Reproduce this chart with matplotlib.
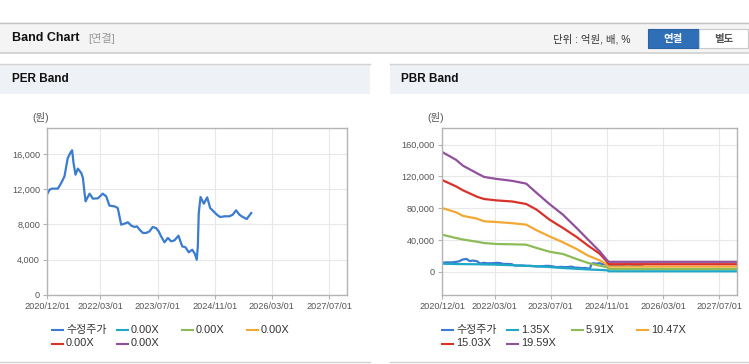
import numpy as np
import pandas as pd
import matplotlib.pyplot as plt
import matplotlib.dates as mdates
from matplotlib.lines import Line2D
from matplotlib.patches import Rectangle
from matplotlib.ticker import FuncFormatter

plt.rcParams['font.family'] = ['Liberation Sans', 'Noto Sans CJK KR', 'DejaVu Sans']

# ---- data ----
price_dates = ['2020-12-01', '2020-12-23', '2021-01-13', '2021-03-03', '2021-04-01', '2021-04-29',
               '2021-05-27', '2021-06-25', '2021-07-03', '2021-07-15', '2021-08-01', '2021-08-21',
               '2021-09-19', '2021-10-03', '2021-10-17', '2021-10-26', '2021-11-09', '2021-11-29',
               '2021-12-27', '2022-02-08', '2022-03-21', '2022-04-19', '2022-05-17', '2022-06-29',
               '2022-07-27', '2022-08-25', '2022-09-23', '2022-10-21', '2022-11-19', '2022-12-17',
               '2023-01-06', '2023-01-29', '2023-02-26', '2023-03-25', '2023-04-23', '2023-05-21',
               '2023-06-18', '2023-07-11', '2023-07-31', '2023-08-29', '2023-09-27', '2023-10-25',
               '2023-11-22', '2023-12-26', '2024-01-27', '2024-02-24', '2024-03-23', '2024-04-21',
               '2024-05-13', '2024-05-30', '2024-06-08', '2024-06-16', '2024-07-01', '2024-07-29',
               '2024-08-27', '2024-09-21', '2024-10-20', '2024-11-17', '2024-12-15', '2025-01-22',
               '2025-03-04', '2025-04-02', '2025-04-30', '2025-05-28', '2025-06-26', '2025-07-30',
               '2025-08-16', '2025-09-06']
price = [11400, 11950, 12070, 12070, 12700, 13470,
         15550, 16300, 16420, 14980, 13650, 14340,
         13840, 13280, 11570, 10630, 11000, 11500,
         10930, 10970, 11500, 11200, 10140, 10060,
         9870, 7980, 8100, 8250, 7870, 7720,
         7790, 7410, 7040, 7040, 7220, 7720,
         7600, 7220, 6660, 5980, 6470, 6090,
         6200, 6730, 5520, 5410, 4840, 5140,
         4690, 4010, 5520, 9300, 11120, 10360,
         11080, 9870, 9490, 9120, 8850, 8930,
         8930, 9120, 9610, 9120, 8850, 8620,
         8930, 9300]

band_dates = ['2020-12-01', '2021-04-01', '2021-06-01', '2021-10-01', '2021-12-01', '2022-03-15',
              '2022-08-01', '2022-12-01', '2023-03-01', '2023-06-20', '2023-10-15', '2024-02-10',
              '2024-05-20', '2024-08-28', '2024-11-01', '2024-11-15', '2027-12-01']
pbr_135 = [10400, 10000, 9900, 9700, 9500, 9200, 8500, 7700, 7200, 6200, 5000, 4000,
           3200, 2600, 2100, 900, 900]
pbr_591 = [46900, 42700, 40800, 38000, 36400, 35200, 34800, 34300, 30200, 25500, 22600, 16300,
           11300, 8000, 5900, 3900, 3900]
pbr_1047 = [80400, 75000, 70500, 67000, 63700, 62800, 61300, 59500, 52400, 44800, 37300, 28900,
            20500, 14700, 9200, 6800, 6800]
pbr_1503 = [115600, 107600, 102600, 94500, 91700, 90000, 88600, 85400, 78300, 65800, 55300, 44000,
            33100, 23000, 12600, 9800, 9800]
pbr_1959 = [150800, 141000, 133500, 124000, 119400, 117000, 114500, 111000, 99300, 85400, 72000, 55300,
            40600, 26000, 14700, 12800, 12800]

per_labels = ['수정주가', '0.00X', '0.00X', '0.00X', '0.00X', '0.00X']
pbr_labels = ['수정주가', '1.35X', '5.91X', '10.47X', '15.03X', '19.59X']
colors = ['#3b7bd0', '#1fa8c6', '#8dbb58', '#f3a833', '#d9322a', '#91509c']

xticks = ['2020-12-01', '2022-03-01', '2023-07-01', '2024-11-01', '2026-03-01', '2027-07-01']
xstart, xend = '2020-12-01', '2027-12-01'

W, H = 749, 364
fig = plt.figure(figsize=(W / 100, H / 100), dpi=100)
fig.patch.set_facecolor('white')


def box(x, y, w, h, **kw):
    fig.patches.append(Rectangle((x / W, 1 - (y + h) / H), w / W, h / H,
                                 transform=fig.transFigure, **kw))


def ftext(x, y, s, **kw):
    fig.text(x / W, 1 - y / H, s, **kw)


def fline(x0, x1, y, **kw):
    fig.add_artist(Line2D([x0 / W, x1 / W], [1 - y / H, 1 - y / H], transform=fig.transFigure, **kw))


# page header
box(0, 22, W, 31, facecolor='#f4f4f4', edgecolor='none')
fline(0, W, 22.5, color='#c4c4c4', lw=1)
fline(0, W, 53, color='#d0d0d0', lw=1.2)
ftext(12, 38, 'Band Chart', fontsize=9, fontweight='bold', color='#111', va='center')
ftext(88, 38, '[연결]', fontsize=8, color='#999', va='center')
ftext(553, 39, '단위 : 억원, 배, %', fontsize=7.5, color='#333', va='center')
box(648, 29, 51, 19, facecolor='#2f6fb8', edgecolor='#2a62a3', lw=0.8)
box(699, 29, 49, 19, facecolor='white', edgecolor='#c8c8c8', lw=0.8)
ftext(673.5, 39, '연결', fontsize=7.5, fontweight='bold', color='white', ha='center', va='center')
ftext(723.5, 39, '별도', fontsize=7.5, fontweight='bold', color='#555', ha='center', va='center')

# panel headers
for px0, px1 in [(0, 370), (390, W)]:
    box(px0, 64, px1 - px0, 30, facecolor='#eef1f6', edgecolor='none')
    fline(px0, px1, 63.5, color='#d2d2d2', lw=1)
    fline(px0, px1, 362, color='#d2d2d2', lw=1)
ftext(12, 79, 'PER Band', fontsize=8.5, fontweight='bold', color='#111', va='center')
ftext(401, 79, 'PBR Band', fontsize=8.5, fontweight='bold', color='#111', va='center')

pdates = pd.to_datetime(price_dates)
bdates = pd.to_datetime(band_dates)


def setup(ax, ylim, yticks):
    ax.set_xlim(pd.Timestamp(xstart), pd.Timestamp(xend))
    ax.set_ylim(*ylim)
    ax.set_yticks(yticks)
    ax.set_xticks(pd.to_datetime(xticks))
    ax.xaxis.set_major_formatter(mdates.DateFormatter('%Y/%m/%d'))
    ax.yaxis.set_major_formatter(FuncFormatter(lambda v, p: f'{int(v):,}'))
    ax.grid(color='#e8e8e8', lw=0.8)
    ax.set_axisbelow(True)
    for s in ax.spines.values():
        s.set_color('#b4b4b4')
        s.set_linewidth(1)
    ax.tick_params(length=3, color='#b4b4b4', labelsize=6.6, labelcolor='#555', pad=2)


def legend(x0, labels):
    cols = [0, 65, 130, 195]
    for i, (lab, c) in enumerate(zip(labels, colors)):
        r, k = divmod(i, 4)
        x = x0 + cols[k]
        y = 330 + r * 13.5
        fline(x, x + 11, y, color=c, lw=1.5)
        ftext(x + 14, y, lab, fontsize=7.9, color='#333', va='center')


# PER
ax1 = fig.add_axes([47 / W, 1 - 295 / H, 300 / W, 167 / H])
ax1.plot(pdates, price, color=colors[0], lw=1.6)
setup(ax1, (0, 18950), [0, 4000, 8000, 12000, 16000])
ftext(32, 118, '(원)', fontsize=7.5, color='#555', va='center')
legend(52, per_labels)

# PBR
ax2 = fig.add_axes([442 / W, 1 - 295 / H, 295 / W, 167 / H])
ax2.plot(pdates, price, color=colors[0], lw=1.6)
for band, c in zip([pbr_135, pbr_591, pbr_1047, pbr_1503, pbr_1959], colors[1:]):
    ax2.plot(bdates, band, color=c, lw=1.6)
setup(ax2, (-28900, 180900), [0, 40000, 80000, 120000, 160000])
ftext(427, 118, '(원)', fontsize=7.5, color='#555', va='center')
legend(442, pbr_labels)

fig.savefig('out.png', dpi=100)
